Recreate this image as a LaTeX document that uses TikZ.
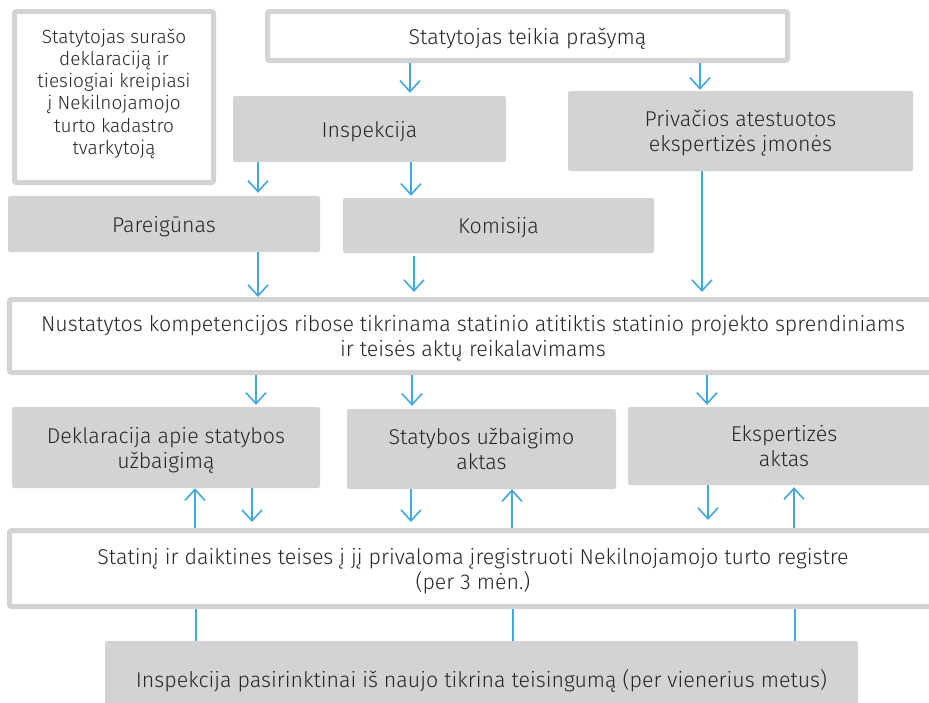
\documentclass[tikz,border=0pt]{standalone}
\usepackage{fontspec}
\setmainfont{Fira Sans}[UprightFont={* Light}]
\usepackage{tikz}
\usetikzlibrary{positioning,arrows.meta}

\definecolor{boxgray}{HTML}{D3D3D3}
\definecolor{arrblue}{HTML}{41A9DC}
\definecolor{txtgray}{HTML}{262626}

\begin{document}
\begin{tikzpicture}[x=1pt,y=-1pt,
  whitebox/.style={draw=boxgray,line width=5pt,fill=white,rounded corners=2pt,
    align=center,text=txtgray,inner sep=0pt,text depth=0pt,
    font=\fontsize{21.4}{25}\selectfont},
  graybox/.style={fill=boxgray,rounded corners=2pt,align=center,text=txtgray,
    inner sep=0pt,text depth=0pt,font=\fontsize{21.4}{25}\selectfont},
  arr/.style={draw=arrblue,line width=1.6pt,-{Straight Barb[length=11pt,width=20pt]}},
  lin/.style={draw=arrblue,line width=1.6pt}]
  \clip (0,0) rectangle (929,702);
  \fill[white] (0,0) rectangle (929,702);

  % Deklaracija be prasymo
  \node[whitebox,minimum width=199pt,minimum height=171pt,text depth=11pt,
    font=\fontsize{19}{22.2}\selectfont] (deklar) at (114,97)
    {Statytojas surašo\\deklaraciją ir\\tiesiogiai kreipiasi\\į Nekilnojamojo\\turto kadastro\\tvarkytoją};
  % Prasymas
  \node[whitebox,minimum width=520pt,minimum height=49pt] (prasymas) at (527.5,36)
    {Statytojas teikia prašymą};

  % Inspekcija ir imones
  \node[graybox,minimum width=273pt,minimum height=66pt] (insp) at (369.5,129) {Inspekcija};
  \node[graybox,minimum width=345pt,minimum height=80pt] (priv) at (740.5,131)
    {Privačios atestuotos\\ekspertizės įmonės};
  \node[graybox,minimum width=312pt,minimum height=56pt] (pareig) at (164,224) {Pareigūnas};
  \node[graybox,minimum width=311pt,minimum height=55pt] (komis) at (498.5,225.5) {Komisija};

  % Tikrinimas
  \node[whitebox,minimum width=927pt,minimum height=73pt] (tikr) at (473,336)
    {Nustatytos kompetencijos ribose tikrinama statinio atitiktis statinio projekto sprendiniams\\ir teisės aktų reikalavimams};

  % Dokumentai
  \node[graybox,minimum width=308pt,minimum height=81pt] (dekl) at (166,447.5)
    {Deklaracija apie statybos\\užbaigimą};
  \node[graybox,minimum width=269pt,minimum height=80pt] (statyb) at (481.5,449)
    {Statybos užbaigimo\\aktas};
  \node[graybox,minimum width=312pt,minimum height=78pt] (ekspert) at (784,446)
    {Ekspertizės\\aktas};

  % Registravimas
  \node[whitebox,minimum width=927pt,minimum height=76pt] (regist) at (473,568.5)
    {Statinį ir daiktines teises į jį privaloma įregistruoti Nekilnojamojo turto registre\\(per 3 mėn.)};

  % Patikra
  \node[graybox,minimum width=753pt,minimum height=76pt] (patikra) at (481.5,679)
    {Inspekcija pasirinktinai iš naujo tikrina teisingumą (per vienerius metus)};

  % Rodykles
  \draw[arr,shorten >=3pt] (prasymas.south -| 410,0) -- (insp.north -| 410,0);
  \draw[arr,shorten >=1pt] (prasymas.south -| 700,0) -- (priv.north -| 700,0);
  \draw[arr,shorten >=3pt] (insp.south -| 258,0) -- (pareig.north -| 258,0);
  \draw[arr,shorten >=2pt] (insp.south -| 411,0) -- (komis.north -| 411,0);
  \draw[arr,shorten >=0pt] (pareig.south -| 258,0) -- (tikr.north -| 258,0);
  \draw[arr,shorten <=3pt,shorten >=5pt] (komis.south -| 414,0) -- (tikr.north -| 414,0);
  \draw[arr,shorten >=5pt] (priv.south -| 702,0) -- (tikr.north -| 702,0);

  \draw[arr,shorten >=2pt] (tikr.south -| 256,0) -- (dekl.north -| 256,0);
  \draw[arr,shorten >=3pt] (tikr.south -| 412,0) -- (statyb.north -| 412,0);
  \draw[arr,shorten >=2pt] (tikr.south -| 707,0) -- (ekspert.north -| 707,0);

  \draw[arr] (regist.north -| 195,0) -- (dekl.south -| 195,0);
  \draw[arr] (regist.north -| 512,0) -- (statyb.south -| 512,0);
  \draw[arr,shorten >=2pt] (regist.north -| 794,0) -- (ekspert.south -| 794,0);
  \draw[arr,shorten >=6pt] (dekl.south -| 252,0) -- (regist.north -| 252,0);
  \draw[arr,shorten >=6pt] (statyb.south -| 411,0) -- (regist.north -| 411,0);
  \draw[arr,shorten >=8pt] (ekspert.south -| 708,0) -- (regist.north -| 708,0);

  \draw[lin] (regist.south -| 196,0) -- (patikra.north -| 196,0);
  \draw[lin] (regist.south -| 513,0) -- (patikra.north -| 513,0);
  \draw[lin] (regist.south -| 795,0) -- (patikra.north -| 795,0);
\end{tikzpicture}
\end{document}
